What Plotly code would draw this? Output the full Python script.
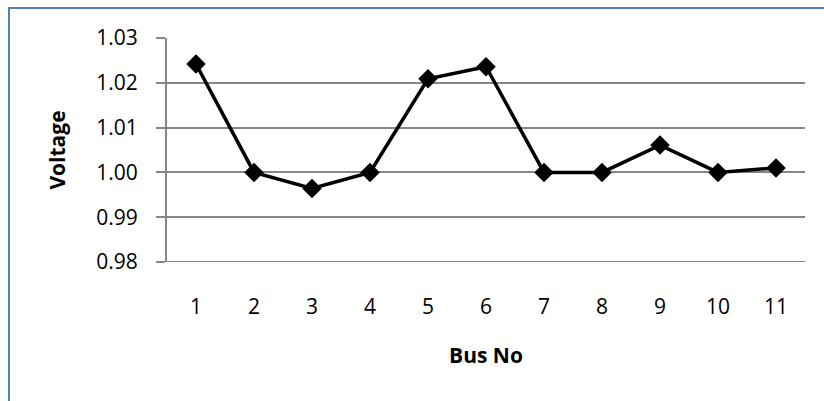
import plotly.graph_objects as go

# Bus voltage profile
bus_no = ["1", "2", "3", "4", "5", "6", "7", "8", "9", "10", "11"]
voltage = [1.0242, 1.0000, 0.9964, 1.0000, 1.0209, 1.0236, 1.0000, 1.0000, 1.0061, 1.0000, 1.0010]
y_ticks = [0.98, 0.99, 1.00, 1.01, 1.02, 1.03]

W, H = 824, 401
L, R, T, B = 167, 19, 38, 139
grey = "#868686"
font = "Open Sans, Liberation Sans, sans-serif"

fig = go.Figure(
    go.Scatter(
        x=bus_no,
        y=voltage,
        mode="lines+markers",
        line=dict(color="black", width=3.5),
        marker=dict(symbol="diamond", size=15, color="black"),
        showlegend=False,
        cliponaxis=False,
    )
)

pw, ph = W - L - R, H - T - B
fig.update_layout(
    width=W,
    height=H,
    margin=dict(l=L, r=R, t=T, b=B),
    paper_bgcolor="white",
    plot_bgcolor="white",
    font=dict(family=font, size=21, color="black"),
    xaxis=dict(
        type="category",
        range=[-0.5, len(bus_no) - 0.5],
        showgrid=False,
        showline=False,
        ticks="",
        ticklabelstandoff=30,
        tickfont=dict(size=21),
        title=dict(text="<b>Bus No</b>", font=dict(size=21), standoff=29),
    ),
    yaxis=dict(
        range=[0.98, 1.03],
        tickvals=y_ticks,
        ticktext=[f"{v:.2f}" for v in y_ticks],
        showgrid=True,
        gridcolor=grey,
        gridwidth=1.5,
        showline=True,
        linecolor=grey,
        linewidth=2,
        ticks="outside",
        ticklen=9,
        tickcolor=grey,
        tickwidth=1.5,
        ticklabelstandoff=14,
        tickfont=dict(size=21),
        zeroline=False,
        title=dict(text="<b>Voltage</b>", font=dict(size=21), standoff=25),
    ),
)

# Bottom axis baseline at 0.98
fig.add_shape(type="line", xref="paper", yref="y", x0=0, x1=1, y0=0.98, y1=0.98,
              line=dict(color=grey, width=2))

# Chart frame
fig.add_shape(
    type="rect", xref="paper", yref="paper",
    x0=(9 - L) / pw, x1=(W + 20 - L) / pw,
    y0=(H - B - (H + 20)) / ph, y1=(H - B - 8) / ph,
    line=dict(color="#4F81BD", width=2),
    fillcolor="rgba(0,0,0,0)",
    layer="above",
)

fig.write_html("out.html")
